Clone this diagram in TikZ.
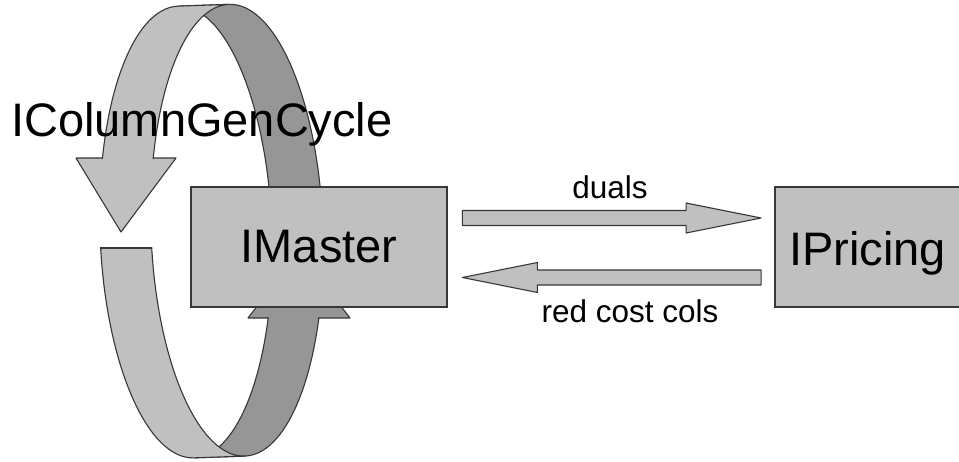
\documentclass[tikz,border=0pt]{standalone}
\usepackage{fontspec}
\setmainfont{Liberation Sans}
\usetikzlibrary{calc}

\definecolor{bandlight}{RGB}{192,192,192}
\definecolor{banddark}{RGB}{150,150,150}
\definecolor{edgegray}{RGB}{55,55,55}

% The cycle band: two equal ellipses offset along the band axis.
% Left halves give the outer (light) face, right halves the inner (dark) face.
\def\lightband{(0,-226) arc[start angle=270,end angle=90,x radius=86,y radius=226]
  -- (51,226) arc[start angle=90,end angle=270,x radius=86,y radius=226] -- cycle}
\def\darkband{(0,-226) arc[start angle=-90,end angle=90,x radius=86,y radius=226]
  -- (51,226) arc[start angle=90,end angle=-90,x radius=86,y radius=226] -- cycle}

% Block arrow from #1 to #2 (horizontal), shaft and head sizes fixed
\newcommand\blockarrow[2]{%
  \draw[edgeline, fill=bandlight]
    let \p1=(#1), \p2=(#2), \n1={sign(\x2-\x1)} in
    ({\x1},{\y1+7.5pt}) -- ({\x2-(\n1)*75pt},{\y1+7.5pt}) -- ({\x2-(\n1)*75pt},{\y1+15pt})
    -- ({\x2},{\y2}) -- ({\x2-(\n1)*75pt},{\y1-15pt}) -- ({\x2-(\n1)*75pt},{\y1-7.5pt})
    -- ({\x1},{\y1-7.5pt}) -- cycle;}

\tikzset{
  edgeline/.style={draw=edgegray, line width=1.1pt, line join=round},
  ringpos/.style={shift={(186,232)}, rotate=2},
  boxnode/.style={draw=edgegray, line width=1.3pt, fill=bandlight,
    minimum height=120pt, inner sep=0pt},
  bigtext/.style={inner sep=0pt, font=\fontsize{47}{56}\selectfont},
  smalltext/.style={inner sep=0pt, font=\fontsize{31.5}{38}\selectfont},
}

\begin{document}
\begin{tikzpicture}[x=1pt,y=-1pt]
\useasboundingbox (0,0) rectangle (959,461);
\clip (0,0) rectangle (959,461);
\fill[white] (0,0) rectangle (959,461);

% dark (inner) face, upper part
\begin{scope}
  \clip (0,-20) rectangle (959,200);
  \draw[edgeline, fill=banddark, ringpos] \darkband;
\end{scope}
% dark face, lower part with its head pointing up under the box
\draw[edgeline, fill=banddark] (248,318) -- (299,252) -- (350,318) -- cycle;
\begin{scope}
  \clip (0,317.4) rectangle (959,480);
  \draw[edgeline, fill=banddark, ringpos] \darkband;
\end{scope}

% light (outer) face, upper part ending in the downward head
\draw[edgeline, fill=bandlight] (76,158) -- (121,232) -- (176,158) -- cycle;
\begin{scope}
  \clip (0,-20) rectangle (959,158.6);
  \draw[edgeline, fill=bandlight, ringpos] \lightband;
\end{scope}
% light face, lower part
\begin{scope}
  \clip (0,247.45) rectangle (959,480);
  \draw[edgeline, fill=bandlight, ringpos] \lightband;
  \clip[ringpos] \lightband;
  \draw[edgeline] (0,248) -- (959,248);
\end{scope}

% boxes
\node[boxnode, minimum width=256pt, bigtext] (master) at (319,247) {IMaster};
\node[boxnode, minimum width=210pt] (pricing) at (880,247) {};
\node[bigtext, anchor=base west] (pricingText) at (789,265) {IPricing};

% data flow between master and pricing
\coordinate (dualsFrom) at ($(master.east)+(14.7,-29)$);
\coordinate (dualsTo) at ($(pricing.west)+(-13.3,-29)$);
\coordinate (colsFrom) at ($(pricing.west)+(-13.3,30.5)$);
\coordinate (colsTo) at ($(master.east)+(14.7,30.5)$);
\blockarrow{dualsFrom}{dualsTo}
\blockarrow{colsFrom}{colsTo}
\node[smalltext, anchor=base] (dualsLabel) at (610,198) {duals};
\node[smalltext, anchor=base] (colsLabel) at (630,322) {red cost cols};

% cycle caption
\node[bigtext, anchor=base west] (cycleLabel) at (11,136) {IColumnGenCycle};
\end{tikzpicture}
\end{document}
